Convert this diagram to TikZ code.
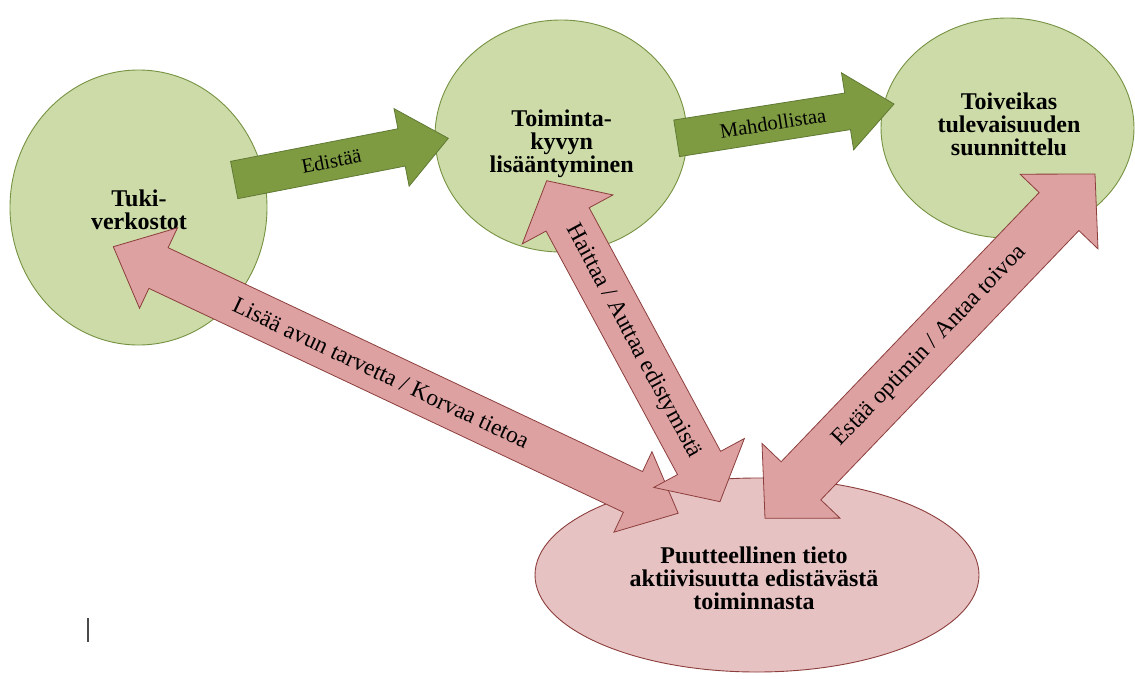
\documentclass[tikz,border=0pt]{standalone}
\usepackage{fontspec}
\setmainfont{Liberation Serif}
\usetikzlibrary{shapes.geometric}
\definecolor{gfill}{RGB}{204,219,167}
\definecolor{gline}{RGB}{118,146,66}
\definecolor{gafill}{RGB}{126,155,66}
\definecolor{galine}{RGB}{96,122,52}
\definecolor{pafill}{RGB}{221,161,161}
\definecolor{paline}{RGB}{140,62,60}
\definecolor{pefill}{RGB}{231,194,194}
\definecolor{cursor}{RGB}{75,75,75}
\tikzset{
  gcirc/.style={ellipse, draw=gline, fill=gfill, line width=0.9pt, inner sep=0pt},
  pell/.style={ellipse, draw=paline, fill=pefill, line width=0.9pt, inner sep=0pt},
  ctext/.style={align=center, inner sep=0pt, font=\bfseries\fontsize{24}{23}\selectfont},
  garrow/.style={draw=galine, fill=gafill, line width=0.8pt, line join=miter},
  parrow/.style={draw=paline, fill=pafill, line width=0.8pt, line join=miter},
  glab/.style={inner sep=0pt, font=\fontsize{20.5}{22}\selectfont},
  plab/.style={inner sep=0pt, font=\fontsize{23.5}{25}\selectfont},
}
% #1 start, #2 end, #3 shaft width, #4 head width, #5 head length,
% #6 double (1) or single (0), #7 arrow style, #8 label style, #9 label pos (fraction)
\newcommand\barrow[9]{%
  \path (#1); \pgfgetlastxy{\bax}{\bay}%
  \path (#2); \pgfgetlastxy{\bbx}{\bby}%
  \pgfmathsetmacro\bang{atan2(\bby-\bay,\bbx-\bax)}%
  \pgfmathsetmacro\blen{veclen(\bbx-\bax,\bby-\bay)}%
  \pgfmathsetmacro\bsw{#3/2}%
  \pgfmathsetmacro\bhw{#4/2}%
  \pgfmathsetmacro\bhl{#5}%
  \pgfmathsetmacro\bhb{\blen-\bhl}%
  \pgfmathsetmacro\blp{#9*\blen}%
  \begin{scope}[shift={(#1)},rotate=\bang,x=1pt,y=1pt]
    \ifnum#6=1
      \draw[#7] (0,0) -- (\bhl,\bhw) -- (\bhl,\bsw) -- (\bhb,\bsw) -- (\bhb,\bhw)
        -- (\blen,0) -- (\bhb,-\bhw) -- (\bhb,-\bsw) -- (\bhl,-\bsw) -- (\bhl,-\bhw) -- cycle;
    \else
      \draw[#7] (0,\bsw) -- (\bhb,\bsw) -- (\bhb,\bhw) -- (\blen,0)
        -- (\bhb,-\bhw) -- (\bhb,-\bsw) -- (0,-\bsw) -- cycle;
    \fi
    \node[transform shape,#8] (#1-lab) at (\blp,0) {\barrowlabel};
  \end{scope}}
\begin{document}
\begin{tikzpicture}[x=1pt,y=-1pt]
\useasboundingbox (0,0) rectangle (1135,678);
% circles
\node[gcirc, minimum width=257pt, minimum height=275pt] (tuki) at (138.5,207.5) {};
\node[gcirc, minimum width=252pt, minimum height=232pt] (toim) at (561,136) {};
\node[gcirc, minimum width=253pt, minimum height=220pt] (toiv) at (1007.5,128) {};
\node[ctext] (tuki-t) at (139,210) {Tuki-\\verkostot};
\node[ctext] (toim-t) at (561.7,144) {Toiminta-\\kyvyn\\lisääntyminen};
\node[ctext] (toiv-t) at (1009,124) {Toiveikas\\tulevaisuuden\\suunnittelu};
% green arrows
\coordinate (g1a) at (234.2,180);
\coordinate (g1b) at (448.3,138.3);
\coordinate (g2a) at (676.7,138.3);
\coordinate (g2b) at (894,104);
\def\barrowlabel{Edistää}
\barrow{g1a}{g1b}{38}{79}{47.6}{0}{garrow}{glab}{0.454}
\def\barrowlabel{Mahdollistaa}
\barrow{g2a}{g2b}{37}{78}{47}{0}{garrow}{glab}{0.443}
% pink ellipse
\node[pell, minimum width=444pt, minimum height=194pt] (puut) at (757,575) {};
\node[ctext] (puut-t) at (754,578) {Puutteellinen tieto\\aktiivisuutta edistävästä\\toiminnasta};
% pink double arrows
\coordinate (p1a) at (113.3,246.7);
\coordinate (p1b) at (678.3,513.3);
\coordinate (p2a) at (546.7,180.7);
\coordinate (p2b) at (720,501.7);
\coordinate (p3a) at (765,518.3);
\coordinate (p3b) at (1095,174);
\def\barrowlabel{Lisää avun tarvetta / Korvaa tietoa}
\barrow{p1a}{p1b}{45}{89}{50}{1}{parrow}{plab}{0.474}
\def\barrowlabel{Haittaa / Auttaa edistymistä}
\barrow{p2a}{p2b}{49}{103}{44}{1}{parrow}{plab}{0.5}
\def\barrowlabel{Estää optimin / Antaa toivoa}
\barrow{p3a}{p3b}{55}{108}{52}{1}{parrow}{plab}{0.5}
% text cursor mark
\coordinate (cur1) at (88,618);
\coordinate (cur2) at (88,642);
\draw[cursor, line width=2pt] (cur1) -- (cur2);
\end{tikzpicture}
\end{document}
